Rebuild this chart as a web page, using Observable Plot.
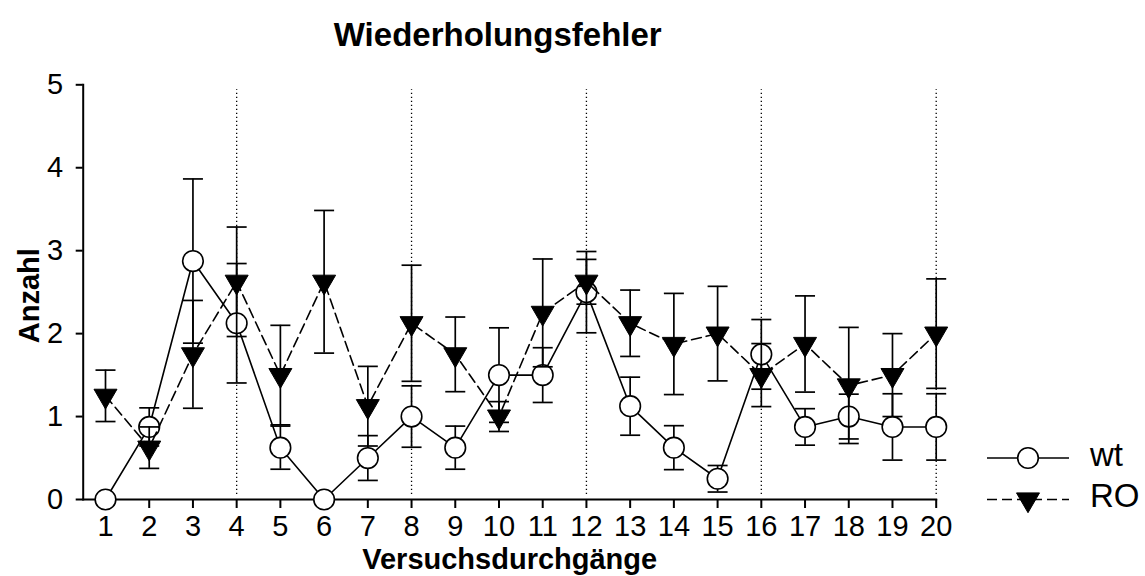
<!DOCTYPE html>
<html>
<head>
<meta charset="utf-8">
<script src="https://cdn.jsdelivr.net/npm/d3@7"></script>
<script src="https://cdn.jsdelivr.net/npm/@observablehq/plot@0.6"></script>
<style>
  body { margin: 0; background: #fff; }
  #chart { position: relative; width: 1145px; height: 576px; font-family: "Liberation Sans", Arial, sans-serif; }
  #chart svg.legend { position: absolute; left: 0; top: 0; pointer-events: none; }
</style>
</head>
<body>
<div id="chart"></div>
<script>
// Trials (Versuchsdurchgänge) 1–20
const trials = d3.range(1, 21);

// Mean repeat errors and SEM per trial, group wt
const wtMean = [0, 0.875, 2.875, 2.125, 0.625, 0, 0.5, 1.0, 0.625, 1.5,
                1.5, 2.5, 1.125, 0.625, 0.25, 1.75, 0.875, 1.0, 0.875, 0.875];
const wtSem  = [0, 0.23, 0.99, 0.72, 0.26, 0, 0.27, 0.37, 0.26, 0.57,
                0.33, 0.49, 0.35, 0.265, 0.16, 0.42, 0.22, 0.27, 0.40, 0.40];

// Mean repeat errors and SEM per trial, group RO
const roMean = [1.25, 0.625, 1.75, 2.625, 1.5, 2.625, 1.125, 2.125, 1.75, 1.0,
                2.25, 2.625, 2.125, 1.875, 2.0, 1.5, 1.875, 1.375, 1.5, 2.0];
const roSem  = [0.31, 0.25, 0.65, 0.66, 0.6, 0.86, 0.48, 0.7, 0.45, 0.18,
                0.65, 0.27, 0.4, 0.61, 0.57, 0.38, 0.58, 0.70, 0.50, 0.66];

// Block boundaries (every fourth trial) and axis ticks
const blockEnds = [4, 8, 12, 16, 20];
const xTicks = trials;
const yTicks = [0, 1, 2, 3, 4, 5];
const groupNames = ["wt", "RO"];

const titleText = "Wiederholungsfehler";
const xLabel = "Versuchsdurchgänge";
const yLabel = "Anzahl";

const rows = (mean, sem) => trials.map((t, i) => ({
  trial: t, mean: mean[i], sem: sem[i], lo: mean[i] - sem[i], hi: mean[i] + sem[i]
}));
const wt = rows(wtMean, wtSem);
const ro = rows(roMean, roSem);

// Custom symbols: horizontal error-bar cap and a downward triangle
const cap = { draw(ctx) { ctx.moveTo(-10, 0); ctx.lineTo(10, 0); } };
const downTriangle = { draw(ctx) {
  ctx.moveTo(-11.5, -6.6); ctx.lineTo(11.5, -6.6); ctx.lineTo(0, 13.2); ctx.closePath();
} };

function errorBars(data) {
  const withErr = data.filter(d => d.sem > 0);
  return [
    Plot.ruleX(withErr, { x: "trial", y1: "lo", y2: "hi", stroke: "black", strokeWidth: 1.7 }),
    Plot.dot(withErr, { x: "trial", y: "hi", symbol: cap, fill: "none", stroke: "black", strokeWidth: 1.7 }),
    Plot.dot(withErr, { x: "trial", y: "lo", symbol: cap, fill: "none", stroke: "black", strokeWidth: 1.7 })
  ];
}

const chart = Plot.plot({
  width: 1145,
  height: 576,
  marginLeft: 82.7,
  marginRight: 209.3,
  marginTop: 84.3,
  marginBottom: 77,
  x: { type: "linear", domain: [0.49, 20] },
  y: { domain: [0, 5] },
  style: {
    fontFamily: "'Liberation Sans', Arial, sans-serif",
    fontSize: "29px",
    color: "black",
    background: "white",
    overflow: "visible"
  },
  marks: [
    // dotted block separators
    Plot.ruleX(blockEnds, { y1: 0.06, y2: 4.94, stroke: "black", strokeWidth: 1.3, strokeDasharray: "1.3,2.7" }),

    // axes
    Plot.axisX({ ticks: xTicks, tickFormat: "d", tickSize: 9, tickPadding: 7, fontSize: 29, strokeWidth: 2, label: null }),
    Plot.axisY({ ticks: yTicks, tickFormat: "d", tickSize: 7, tickPadding: 13, fontSize: 29, strokeWidth: 2, label: null }),
    Plot.frame({ anchor: "left", strokeWidth: 2 }),
    Plot.frame({ anchor: "bottom", strokeWidth: 2 }),

    // wt: solid line with open circles
    ...errorBars(wt),
    Plot.line(wt, { x: "trial", y: "mean", stroke: "black", strokeWidth: 1.6 }),
    Plot.dot(wt, { x: "trial", y: "mean", r: 10.3, fill: "white", stroke: "black", strokeWidth: 1.6 }),

    // RO: dashed line with filled downward triangles
    ...errorBars(ro),
    Plot.line(ro, { x: "trial", y: "mean", stroke: "black", strokeWidth: 1.6, strokeDasharray: "10,5" }),
    Plot.dot(ro, { x: "trial", y: "mean", symbol: downTriangle, fill: "black", stroke: "black", strokeWidth: 1 }),

    // title and axis labels
    Plot.text([titleText], { text: d => d, frameAnchor: "top", dx: -12, dy: -39, lineAnchor: "bottom",
      fontSize: 33, fontWeight: "bold" }),
    Plot.text([xLabel], { text: d => d, frameAnchor: "bottom", dy: 69, lineAnchor: "bottom",
      fontSize: 29, fontWeight: "bold" }),
    Plot.text([yLabel], { text: d => d, frameAnchor: "left", textAnchor: "middle", dx: -53, dy: 3.5, rotate: -90,
      fontSize: 29, fontWeight: "bold" })
  ]
});

const root = document.getElementById("chart");
root.appendChild(chart);

// Legend: line + marker swatch and group name
const legend = d3.select(root).append("svg")
  .attr("class", "legend")
  .attr("width", 1145).attr("height", 576);

const items = legend.selectAll("g").data(groupNames).join("g")
  .attr("transform", (d, i) => `translate(987, ${458 + i * 41.5})`);

items.append("line")
  .attr("x1", 0).attr("x2", 82).attr("y1", 0).attr("y2", 0)
  .attr("stroke", "black").attr("stroke-width", 1.6)
  .attr("stroke-dasharray", d => d === "RO" ? "10,5" : null);

items.filter(d => d === "wt").append("circle")
  .attr("cx", 41).attr("cy", 0).attr("r", 10.3)
  .attr("fill", "white").attr("stroke", "black").attr("stroke-width", 1.6);

items.filter(d => d === "RO").append("path")
  .attr("d", "M29.5,-6.6L52.5,-6.6L41,13.2Z")
  .attr("fill", "black").attr("stroke", "black");

items.append("text")
  .attr("x", 103).attr("y", 0).attr("dy", "0.24em")
  .style("font-size", "33px")
  .style("font-family", "'Liberation Sans', Arial, sans-serif")
  .text(d => d);
</script>
</body>
</html>
